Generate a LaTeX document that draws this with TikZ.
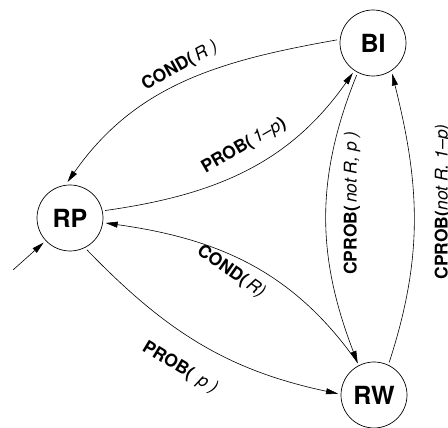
\documentclass[tikz,border=0pt]{standalone}
\usepackage{fontspec}
\setmainfont{TeX Gyre Heros}
\usetikzlibrary{arrows.meta}
\begin{document}
\begin{tikzpicture}[x=1pt,y=1pt,
  state/.style={circle,draw,line width=0.7pt,minimum size=66pt,inner sep=0pt,outer sep=3pt,font=\fontsize{25}{25}\selectfont\bfseries},
  edge/.style={line width=0.6pt,-{Triangle[length=12pt,width=6pt]}},
  lab/.style={font=\fontsize{17.5}{17.5}\selectfont,inner sep=0pt}]
\clip (0,0) rectangle (448,428);
\node[state] (BI) at (373,385) {BI};
\node[state] (RP) at (70,210) {RP};
\node[state] (RW) at (374,33) {RW};
\coordinate (init) at (13,158);
\draw[edge] (init) -- (RP.223);
\draw[edge] (BI.175) to[out=190,in=55] (RP.94);
\draw[edge] (RP.12) to[out=8,in=235] (BI.236);
\draw[edge] (RW.117) to[out=125,in=-8] (RP.-8);
\draw[edge] (RP.-62) to[out=-46,in=168] (RW.178);
\draw[edge] (BI.243) to[out=248,in=111] (RW.117);
\draw[edge] (RW.65) to[out=72,in=-76] (BI.-58);
\node[lab,rotate=29] (l1) at (180,362) {\textbf{COND(}\,\textit{R )}};
\node[lab,rotate=30] (l2) at (244,282) {\textbf{PROB(}\,\textit{1--p}\textbf{)}};
\node[lab,rotate=-35] (l3) at (231,156) {\textbf{COND(}\,\textit{R)}};
\node[lab,rotate=-31] (l4) at (180,60) {\textbf{PROB(}\,\textit{ p )}};
\node[lab,rotate=90] (l5) at (352,225) {\textbf{CPROB(}\,\textit{not R, p )}};
\node[lab,rotate=90] (l6) at (443,226) {\textbf{CPROB(}\textit{not R, 1--p)}};
\end{tikzpicture}
\end{document}
